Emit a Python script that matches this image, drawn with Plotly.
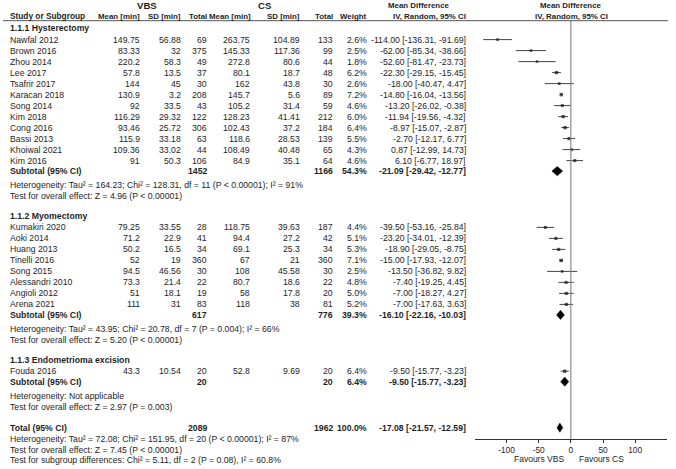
import plotly.graph_objects as go

# ---------------- data ----------------
hyst_names = ["Nawfal 2012", "Brown 2016", "Zhou 2014", "Lee 2017", "Tsafrir 2017", "Karacan 2018",
              "Song 2014", "Kim 2018", "Cong 2016", "Bassi 2013", "Khoiwal 2021", "Kim 2016"]
hyst_vbs_mean = [149.75, 83.33, 220.2, 57.8, 144, 130.9, 92, 116.29, 93.46, 115.9, 109.36, 91]
hyst_vbs_sd = [56.88, 32, 58.3, 13.5, 45, 3.2, 33.5, 29.32, 25.72, 33.18, 33.02, 50.3]
hyst_vbs_n = [69, 375, 49, 37, 30, 208, 43, 122, 306, 63, 44, 106]
hyst_cs_mean = [263.75, 145.33, 272.8, 80.1, 162, 145.7, 105.2, 128.23, 102.43, 118.6, 108.49, 84.9]
hyst_cs_sd = [104.89, 117.36, 80.6, 18.7, 43.8, 5.6, 31.4, 41.41, 37.2, 28.53, 40.48, 35.1]
hyst_cs_n = [133, 99, 44, 48, 30, 89, 59, 212, 184, 139, 65, 64]
hyst_weight = [2.6, 2.5, 1.8, 6.2, 2.6, 7.2, 4.6, 6.0, 6.4, 5.5, 4.3, 4.6]
hyst_md = [-114.00, -62.00, -52.60, -22.30, -18.00, -14.80, -13.20, -11.94, -8.97, -2.70, 0.87, 6.10]
hyst_lo = [-136.31, -85.34, -81.47, -29.15, -40.47, -16.04, -26.02, -19.56, -15.07, -12.17, -12.99, -6.77]
hyst_hi = [-91.69, -38.66, -23.73, -15.45, 4.47, -13.56, -0.38, -4.32, -2.87, 6.77, 14.73, 18.97]
hyst_sub = dict(vbs_n=1452, cs_n=1166, weight=54.3, md=-21.09, lo=-29.42, hi=-12.77)
hyst_het = "Heterogeneity: Tau² = 164.23; Chi² = 128.31, df = 11 (P < 0.00001); I² = 91%"
hyst_test = "Test for overall effect: Z = 4.96 (P < 0.00001)"

myo_names = ["Kumakiri 2020", "Aoki 2014", "Huang 2013", "Tinelli 2016", "Song 2015",
             "Alessandri 2010", "Angioli 2012", "Arena 2021"]
myo_vbs_mean = [79.25, 71.2, 50.2, 52, 94.5, 73.3, 51, 111]
myo_vbs_sd = [33.55, 22.9, 16.5, 19, 46.56, 21.4, 18.1, 31]
myo_vbs_n = [28, 41, 34, 360, 30, 22, 19, 83]
myo_cs_mean = [118.75, 94.4, 69.1, 67, 108, 80.7, 58, 118]
myo_cs_sd = [39.63, 27.2, 25.3, 21, 45.58, 18.6, 17.8, 38]
myo_cs_n = [187, 42, 34, 360, 30, 22, 20, 81]
myo_weight = [4.4, 5.1, 5.3, 7.1, 2.5, 4.8, 5.0, 5.2]
myo_md = [-39.50, -23.20, -18.90, -15.00, -13.50, -7.40, -7.00, -7.00]
myo_lo = [-53.16, -34.01, -29.05, -17.93, -36.82, -19.25, -18.27, -17.63]
myo_hi = [-25.84, -12.39, -8.75, -12.07, 9.82, 4.45, 4.27, 3.63]
myo_sub = dict(vbs_n=617, cs_n=776, weight=39.3, md=-16.10, lo=-22.16, hi=-10.03)
myo_het = "Heterogeneity: Tau² = 43.95; Chi² = 20.78, df = 7 (P = 0.004); I² = 66%"
myo_test = "Test for overall effect: Z = 5.20 (P < 0.00001)"

endo_names = ["Fouda 2016"]
endo_vbs_mean = [43.3]
endo_vbs_sd = [10.54]
endo_vbs_n = [20]
endo_cs_mean = [52.8]
endo_cs_sd = [9.69]
endo_cs_n = [20]
endo_weight = [6.4]
endo_md = [-9.50]
endo_lo = [-15.77]
endo_hi = [-3.23]
endo_sub = dict(vbs_n=20, cs_n=20, weight=6.4, md=-9.50, lo=-15.77, hi=-3.23)
endo_het = "Heterogeneity: Not applicable"
endo_test = "Test for overall effect: Z = 2.97 (P = 0.003)"

total = dict(vbs_n=2089, cs_n=1962, weight=100.0, md=-17.08, lo=-21.57, hi=-12.59)
total_het = "Heterogeneity: Tau² = 72.08; Chi² = 151.95, df = 20 (P < 0.00001); I² = 87%"
total_test = "Test for overall effect: Z = 7.45 (P < 0.00001)"
subgroup_test = "Test for subgroup differences: Chi² = 5.11, df = 2 (P = 0.08), I² = 60.8%"

groups = [
    ("1.1.1 Hysterectomy", hyst_names, hyst_vbs_mean, hyst_vbs_sd, hyst_vbs_n, hyst_cs_mean, hyst_cs_sd,
     hyst_cs_n, hyst_weight, hyst_md, hyst_lo, hyst_hi, hyst_sub, hyst_het, hyst_test),
    ("1.1.2 Myomectomy", myo_names, myo_vbs_mean, myo_vbs_sd, myo_vbs_n, myo_cs_mean, myo_cs_sd,
     myo_cs_n, myo_weight, myo_md, myo_lo, myo_hi, myo_sub, myo_het, myo_test),
    ("1.1.3 Endometrioma excision", endo_names, endo_vbs_mean, endo_vbs_sd, endo_vbs_n, endo_cs_mean,
     endo_cs_sd, endo_cs_n, endo_weight, endo_md, endo_lo, endo_hi, endo_sub, endo_het, endo_test),
]

x_ticks = [-100, -50, 0, 50, 100]
x_ticktext = ["-100", "-50", "0", "50", "100"]

# ---------------- layout helpers ----------------
W, H = 676, 469
FONT = "Liberation Sans, Arial, Helvetica, sans-serif"
FS = 8.7
HFS = 7.9
TXT = "#1e1e1e"

def px(x):
    return x / W

COL = dict(name=8, vm=141.7, vs=182.7, vn=209.3, cm=252.3, cs=302.3, cn=335, w=369, md=467.7)

ann = []

def text(x, y, s, anchor="right", bold=False, size=FS):
    if bold:
        s = "<b>" + s + "</b>"
    ann.append(dict(x=px(x), y=y, xref="paper", yref="y", text=s, showarrow=False,
                    xanchor=anchor, yanchor="middle", font=dict(family=FONT, size=size, color=TXT)))

def g(v):
    return f"{v:g}"

def ci_text(m, lo, hi):
    return f"{m:.2f} [{lo:.2f}, {hi:.2f}]"

fig = go.Figure()

# headers
text(147, 5, "VBS", "center", True, 9.6)
text(265, 5, "CS", "center", True, 9.6)
text(419, 5, "Mean Difference", "center", True, HFS)
text(571, 5, "Mean Difference", "center", True, HFS)
text(COL["name"], 16, "Study or Subgroup", "left", True, 8.3)
text(COL["vm"], 16, "Mean [min]", bold=True, size=HFS)
text(COL["vs"], 16, "SD [min]", bold=True, size=HFS)
text(COL["vn"], 16, "Total", bold=True, size=HFS)
text(COL["cm"] + 0.7, 16, "Mean [min]", bold=True, size=HFS)
text(COL["cs"], 16, "SD [min]", bold=True, size=HFS)
text(COL["cn"], 16, "Total", bold=True, size=HFS)
text(COL["w"], 16, "Weight", bold=True, size=HFS)
text(COL["md"], 16, "IV, Random, 95% CI", bold=True, size=HFS)
text(571, 16, "IV, Random, 95% CI", "center", True, HFS)

pts_x, pts_y, pts_lo, pts_hi, pts_size = [], [], [], [], []
diamonds = []

y = 28.0
for gi, (label, names, vm, vs, vn, cm, cs, cn, wt, md, lo, hi, sub, het, test) in enumerate(groups):
    if gi > 0:
        y += 19.7
    text(COL["name"], y, label, "left", True)
    y += 11.6
    for i in range(len(names)):
        if i > 0:
            y += 11.0
        text(COL["name"], y, names[i], "left")
        text(COL["vm"], y, g(vm[i]))
        text(COL["vs"], y, g(vs[i]))
        text(COL["vn"], y, g(vn[i]))
        text(COL["cm"], y, g(cm[i]))
        text(COL["cs"], y, g(cs[i]))
        text(COL["cn"], y, g(cn[i]))
        text(COL["w"], y, f"{wt[i]:.1f}%")
        text(COL["md"], y, ci_text(md[i], lo[i], hi[i]))
        pts_x.append(md[i]); pts_y.append(y)
        pts_lo.append(md[i] - lo[i]); pts_hi.append(hi[i] - md[i])
        pts_size.append(2.2 + 0.18 * wt[i])
    y += 10.5
    text(COL["name"], y, "Subtotal (95% CI)", "left", True)
    text(COL["vn"], y, g(sub["vbs_n"]), bold=True)
    text(COL["cn"], y, g(sub["cs_n"]), bold=True)
    text(COL["w"], y, f"{sub['weight']:.1f}%", bold=True)
    text(COL["md"], y, ci_text(sub["md"], sub["lo"], sub["hi"]), bold=True)
    diamonds.append((sub, y))
    y += 14.0
    text(COL["name"], y, het, "left")
    y += 11.0
    text(COL["name"], y, test, "left")

y += 21.0
text(COL["name"], y, "Total (95% CI)", "left", True)
text(COL["vn"], y, g(total["vbs_n"]), bold=True)
text(COL["cn"], y, g(total["cs_n"]), bold=True)
text(COL["w"], y, f"{total['weight']:.1f}%", bold=True)
text(COL["md"], y, ci_text(total["md"], total["lo"], total["hi"]), bold=True)
diamonds.append((total, y))
y += 11.0
text(COL["name"], y, total_het, "left")
y += 11.0
text(COL["name"], y, total_test, "left")
y += 10.5
text(COL["name"], y, subgroup_test, "left")

# favours labels
text(539, 458.8, "Favours VBS", "center", size=8.5)
text(601, 458.8, "Favours CS", "center", size=8.5)

# study points with CI
fig.add_trace(go.Scatter(
    x=pts_x, y=pts_y, mode="markers",
    marker=dict(symbol="square", size=pts_size, color="#111", line=dict(width=0)),
    error_x=dict(type="data", symmetric=False, array=pts_hi, arrayminus=pts_lo,
                 width=0, thickness=1, color="#444"),
    showlegend=False, hoverinfo="skip"))

# diamonds
for d, yy in diamonds:
    h = 4.6
    fig.add_trace(go.Scatter(
        x=[d["lo"], d["md"], d["hi"], d["md"], d["lo"]],
        y=[yy, yy - h, yy, yy + h, yy],
        mode="lines", fill="toself", fillcolor="#000", line=dict(color="#000", width=0.5),
        showlegend=False, hoverinfo="skip"))

shapes = [
    # header underline
    dict(type="line", xref="paper", yref="y", x0=px(3), x1=px(668), y0=20.7, y1=20.7,
         line=dict(color="#555", width=1)),
    # zero line
    dict(type="line", xref="x", yref="y", x0=0, x1=0, y0=20.7, y1=439,
         line=dict(color="#8a8a8a", width=1.2)),
]

fig.update_layout(
    width=W, height=H,
    margin=dict(l=0, r=0, t=0, b=0, autoexpand=False),
    paper_bgcolor="white", plot_bgcolor="white",
    annotations=ann, shapes=shapes,
    xaxis=dict(domain=[px(475), px(667)], range=[-149, 149.5], anchor="free",
               position=1 - 439 / H, showgrid=False, zeroline=False,
               showline=True, linecolor="#333", linewidth=1,
               ticks="outside", ticklen=3, tickwidth=1, tickcolor="#333",
               tickvals=x_ticks, ticktext=x_ticktext,
               tickfont=dict(family=FONT, size=8.3, color=TXT)),
    yaxis=dict(domain=[0, 1], range=[H, 0], visible=False, showgrid=False, zeroline=False),
)

fig.write_html("out.html", config={"displayModeBar": False},
               post_script="document.body.style.margin='0';document.body.style.overflow='hidden';")
